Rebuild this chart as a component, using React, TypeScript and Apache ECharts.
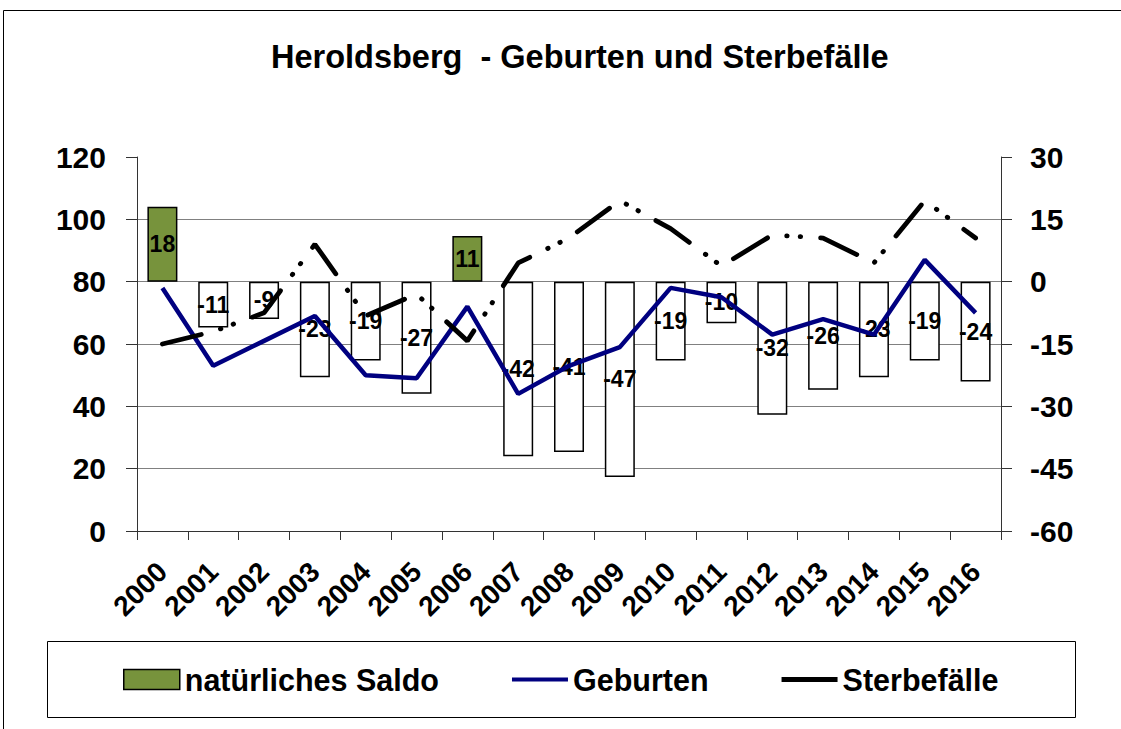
import React, { useEffect, useRef } from "react";
import * as echarts from "echarts";

const years = ["2000", "2001", "2002", "2003", "2004", "2005", "2006", "2007", "2008", "2009", "2010", "2011", "2012", "2013", "2014", "2015", "2016"];
const saldo = [18, -11, -9, -23, -19, -27, 11, -42, -41, -47, -19, -10, -32, -26, -23, -19, -24];
const geburten = [78, 53, 61, 69, 50, 49, 72, 44, 53, 59, 78, 75, 63, 68, 63, 87, 70];
const sterbefaelle = [60, 64, 70, 92, 69, 76, 61, 86, 94, 106, 97, 85, 95, 94, 86, 106, 94];

const GREEN = "#77933C";
const NAVY = "#000080";
const FONT = "'Liberation Sans', Arial, Helvetica, sans-serif";

export default function App() {
  const ref = useRef<HTMLDivElement>(null);
  useEffect(() => {
    const chart = echarts.init(ref.current as HTMLDivElement, null, { renderer: "svg" });
    chart.setOption({
      animation: false,
      backgroundColor: "#ffffff",
      textStyle: { fontFamily: FONT },
      title: {
        text: "Heroldsberg  - Geburten und Sterbefälle",
        left: 266,
        top: 35,
        textStyle: { fontSize: 32.5, fontWeight: "bold", color: "#000", fontFamily: FONT },
      },
      graphic: [
        { type: "rect", shape: { x: 3.5, y: 10.5, width: 1130, height: 740 }, style: { fill: "none", stroke: "#000", lineWidth: 1 }, silent: true },
        { type: "rect", shape: { x: 47.5, y: 641.5, width: 1028, height: 76 }, style: { fill: "none", stroke: "#000", lineWidth: 1 }, silent: true },
      ],
      legend: {
        left: 123,
        top: 664,
        padding: 0,
        itemWidth: 56,
        itemHeight: 20,
        itemGap: 73,
        symbolKeepAspect: true,
        textStyle: { fontSize: 30.5, fontWeight: "bold", color: "#000", fontFamily: FONT },
        data: [
          { name: "natürliches Saldo", icon: "rect", itemStyle: { color: GREEN, borderColor: "#000", borderWidth: 1.5 } },
          { name: "Geburten", icon: "path://M0,0H56V4H0Z", itemStyle: { color: NAVY, borderWidth: 0 } },
          { name: "Sterbefälle", icon: "path://M0,0H56V5H0Z", itemStyle: { color: "#000", borderWidth: 0 } },
        ],
      },
      grid: { left: 137, right: 120, top: 157, bottom: 198 },
      xAxis: {
        type: "category",
        data: years,
        boundaryGap: true,
        axisLine: { show: true, lineStyle: { color: "#333", width: 1 } },
        axisTick: { show: true, length: 9, alignWithLabel: false, lineStyle: { color: "#333", width: 1 } },
        axisLabel: { rotate: 45, interval: 0, fontSize: 28, fontWeight: "bold", color: "#000", margin: 36, fontFamily: FONT },
      },
      yAxis: [
        {
          type: "value",
          position: "left",
          min: 0,
          max: 120,
          interval: 20,
          axisLine: { show: true, lineStyle: { color: "#333", width: 1 } },
          axisTick: { show: true, length: 11, lineStyle: { color: "#333", width: 1 } },
          axisLabel: { fontSize: 30, fontWeight: "bold", color: "#000", margin: 31, fontFamily: FONT },
          splitLine: {
            show: true,
            lineStyle: { color: ["#808080", "#808080", "#808080", "#808080", "#808080", "#808080", "rgba(0,0,0,0)"], width: 1 },
          },
        },
        {
          type: "value",
          position: "right",
          min: -60,
          max: 30,
          interval: 15,
          axisLine: { show: true, lineStyle: { color: "#333", width: 1 } },
          axisTick: { show: true, length: 11, lineStyle: { color: "#333", width: 1 } },
          axisLabel: { fontSize: 30, fontWeight: "bold", color: "#000", margin: 29, fontFamily: FONT },
          splitLine: { show: false },
        },
      ],
      series: [
        {
          name: "natürliches Saldo",
          type: "bar",
          yAxisIndex: 1,
          barWidth: 30,
          data: saldo.map((v) => ({ value: v, itemStyle: { color: v >= 0 ? GREEN : "#ffffff" } })),
          itemStyle: { color: GREEN, borderColor: "#000", borderWidth: 1.5 },
          label: { show: true, position: "inside", fontSize: 23, fontWeight: "bold", color: "#000", fontFamily: FONT },
          z: 1,
        },
        {
          name: "Geburten",
          type: "line",
          yAxisIndex: 0,
          data: geburten,
          symbol: "none",
          lineStyle: { color: NAVY, width: 4.5 },
          itemStyle: { color: NAVY },
          z: 3,
        },
        {
          name: "Sterbefälle",
          type: "line",
          yAxisIndex: 0,
          data: sterbefaelle,
          symbol: "none",
          lineStyle: { color: "#000", width: 4.8, type: [40, 20, 0.5, 13, 0.5, 20], cap: "round" },
          itemStyle: { color: "#000" },
          z: 3,
        },
      ],
    });
    return () => chart.dispose();
  }, []);
  return <div ref={ref} style={{ position: "fixed", left: 0, top: 0, width: 1121, height: 729 }} />;
}
